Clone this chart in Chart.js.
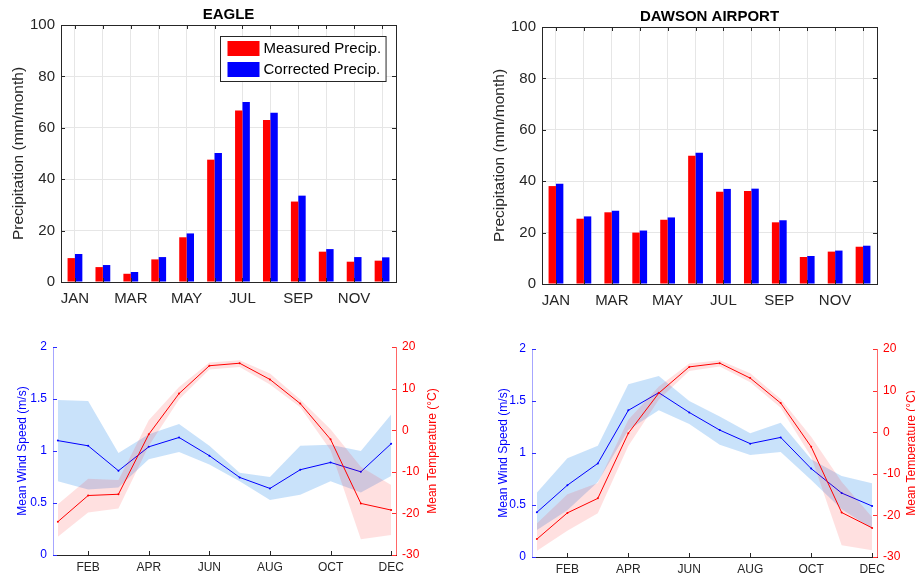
<!DOCTYPE html>
<html>
<head>
<meta charset="utf-8">
<title>Precipitación, viento y temperatura</title>
<script src="https://cdn.jsdelivr.net/npm/chart.js@4"></script>
<style>
    html, body { margin: 0; padding: 0; background: #fff; overflow: hidden; width: 915px; height: 575px; }
    canvas { position: absolute; }
</style>
</head>
<body>
<canvas id="graficaEagle" width="460" height="320" style="left:0;top:0"></canvas>
<canvas id="graficaDawson" width="455" height="320" style="left:460px;top:0"></canvas>
<canvas id="graficaClimaEagle" width="460" height="245" style="left:0;top:330px"></canvas>
<canvas id="graficaClimaDawson" width="470" height="245" style="left:460px;top:330px"></canvas>
<script>
//1. Datos
const meses = ["JAN", "FEB", "MAR", "APR", "MAY", "JUN", "JUL", "AUG", "SEP", "OCT", "NOV", "DEC"];

// Precipitación (mm/mes)
const eaglePrecMedida = [9.3, 5.8, 3.2, 8.8, 17.4, 47.6, 66.7, 63.0, 31.3, 11.8, 7.9, 8.3];
const eaglePrecCorregida = [10.9, 6.6, 3.9, 9.7, 18.9, 50.2, 70.0, 65.9, 33.6, 12.8, 9.7, 9.6];
const dawsonPrecMedida = [38.1, 25.4, 27.9, 20.0, 25.0, 49.9, 35.9, 36.2, 24.0, 10.5, 12.6, 14.5];
const dawsonPrecCorregida = [39.0, 26.3, 28.5, 20.8, 25.9, 51.1, 37.0, 37.1, 24.8, 10.9, 13.0, 14.9];

// Viento medio (m/s) con su banda
const eagleViento = [1.10, 1.05, 0.81, 1.04, 1.13, 0.955, 0.746, 0.64, 0.82, 0.89, 0.80, 1.07];
const eagleVientoMax = [1.49, 1.48, 0.98, 1.16, 1.26, 1.05, 0.79, 0.75, 1.05, 1.06, 1.00, 1.35];
const eagleVientoMin = [0.71, 0.63, 0.65, 0.92, 0.99, 0.87, 0.71, 0.53, 0.58, 0.71, 0.60, 0.76];
const dawsonViento = [0.43, 0.69, 0.90, 1.41, 1.58, 1.39, 1.22, 1.09, 1.15, 0.85, 0.615, 0.49];
const dawsonVientoMax = [0.62, 0.95, 1.07, 1.66, 1.74, 1.50, 1.35, 1.19, 1.29, 0.94, 0.78, 0.71];
const dawsonVientoMin = [0.26, 0.45, 0.72, 1.22, 1.41, 1.28, 1.08, 0.98, 1.01, 0.74, 0.46, 0.27];

// Temperatura media (°C) con su banda
const eagleTemp = [-22.0, -15.7, -15.4, -1.0, 8.8, 15.5, 16.1, 12.2, 6.4, -2.2, -17.6, -19.2];
const eagleTempMax = [-17.8, -11.7, -12.0, 2.4, 10.4, 16.3, 16.8, 13.6, 7.4, 0.2, -8.8, -13.2];
const eagleTempMin = [-25.6, -19.8, -18.8, -3.8, 7.4, 14.6, 15.2, 11.0, 5.5, -4.8, -26.2, -25.2];
const dawsonTemp = [-25.7, -19.4, -15.9, -0.25, 9.4, 15.7, 16.6, 13.0, 7.0, -3.5, -19.3, -23.0];
const dawsonTempMax = [-21.9, -14.9, -12.2, 3.0, 11.0, 16.5, 17.3, 14.2, 8.0, -1.1, -11.9, -20.4];
const dawsonTempMin = [-28.5, -23.7, -19.5, -3.3, 7.8, 14.7, 15.8, 12.0, 5.9, -5.9, -27.2, -28.4];

const FUENTE = "'Liberation Sans', Arial, sans-serif";
const GRIS = "#262626";

Chart.defaults.font.family = FUENTE;
Chart.defaults.color = GRIS;
Chart.defaults.animation = false;

//2. Plugins pequeños para imitar el estilo de MATLAB

// Caja alrededor del área de la gráfica
const cajaEjes = {
    id: "cajaEjes",
    afterDatasetsDraw(chart, args, opts) {
        if (!opts.mostrar) return;
        const { ctx, chartArea: a } = chart;
        ctx.save();
        ctx.strokeStyle = GRIS;
        ctx.lineWidth = 1;
        ctx.strokeRect(Math.round(a.left) + 0.5, Math.round(a.top) + 0.5,
            Math.round(a.right - a.left), Math.round(a.bottom - a.top));
        ctx.restore();
    }
};

// Marcas de los ejes hacia dentro
const marcasInternas = {
    id: "marcasInternas",
    afterDatasetsDraw(chart, args, opts) {
        const { ctx, chartArea: a } = chart;
        const largo = opts.largo || 4;
        ctx.save();
        ctx.lineWidth = 1;
        (opts.ejes || []).forEach((e) => {
            const escala = chart.scales[e.id];
            ctx.strokeStyle = e.color;
            escala.ticks.forEach((t, i) => {
                const p = Math.round(escala.getPixelForTick(i)) + 0.5;
                ctx.beginPath();
                if (escala.isHorizontal()) {
                    ctx.moveTo(p, a.bottom);
                    ctx.lineTo(p, a.bottom - largo);
                    if (e.ambos) {
                        ctx.moveTo(p, a.top);
                        ctx.lineTo(p, a.top + largo);
                    }
                } else if (escala.position === "left") {
                    ctx.moveTo(a.left, p);
                    ctx.lineTo(a.left + largo, p);
                    if (e.ambos) {
                        ctx.moveTo(a.right, p);
                        ctx.lineTo(a.right - largo, p);
                    }
                } else {
                    ctx.moveTo(a.right, p);
                    ctx.lineTo(a.right - largo, p);
                }
                ctx.stroke();
            });
        });
        ctx.restore();
    }
};

// Leyenda con recuadro dentro del área (arriba a la derecha)
const leyendaCaja = {
    id: "leyendaCaja",
    afterDraw(chart, args, opts) {
        if (!opts.mostrar) return;
        const { ctx, chartArea: a } = chart;
        const series = chart.data.datasets;
        ctx.save();
        ctx.font = "15px " + FUENTE;
        const anchoTexto = Math.max(...series.map((d) => ctx.measureText(d.label).width));
        const ancho = 7 + 32 + 4 + anchoTexto + 5;
        const alto = 9 + series.length * 21 - 6;
        const x = Math.round(a.right - 10 - ancho) + 0.5;
        const y = Math.round(a.top + 11) + 0.5;
        ctx.fillStyle = "#fff";
        ctx.fillRect(x, y, ancho, alto);
        ctx.strokeStyle = GRIS;
        ctx.lineWidth = 1;
        ctx.strokeRect(x, y, ancho, alto);
        series.forEach((d, i) => {
            const fila = y + 4.5 + i * 21;
            ctx.fillStyle = d.backgroundColor;
            ctx.fillRect(x + 7, fila, 32, 15);
            ctx.fillStyle = "#000";
            ctx.textBaseline = "middle";
            ctx.fillText(d.label, x + 7 + 32 + 4, fila + 8);
        });
        ctx.restore();
    }
};

// Título del eje derecho girado como en MATLAB (de abajo hacia arriba)
const tituloDerecho = {
    id: "tituloDerecho",
    afterDraw(chart, args, opts) {
        if (!opts.texto) return;
        const { ctx, chartArea: a } = chart;
        const escala = chart.scales.y1;
        ctx.save();
        ctx.translate(escala.left + opts.x, (a.top + a.bottom) / 2);
        ctx.rotate(-Math.PI / 2);
        ctx.font = opts.tamano + "px " + FUENTE;
        ctx.fillStyle = opts.color;
        ctx.textAlign = "center";
        ctx.textBaseline = "middle";
        ctx.fillText(opts.texto, 0, 0);
        ctx.restore();
    }
};

//3. Gráficas de barras de precipitación
function crearGraficaPrecipitacion(idCanvas, titulo, medida, corregida, medidas) {
    return new Chart(document.getElementById(idCanvas), {
        type: "bar",
        data: {
            labels: meses,
            datasets: [{
                label: "Measured Precip.",
                data: medida,
                backgroundColor: "#ff0000",
                categoryPercentage: 0.53,
                barPercentage: 1.0
            }, {
                label: "Corrected Precip.",
                data: corregida,
                backgroundColor: "#0000ff",
                categoryPercentage: 0.53,
                barPercentage: 1.0
            }]
        },
        options: {
            responsive: false,
            layout: { padding: { left: 0, right: medidas.derecha, top: 0, bottom: 0 } },
            plugins: {
                legend: { display: false },
                tooltip: { enabled: false },
                title: {
                    display: true,
                    text: titulo,
                    fullSize: false,
                    color: "#000",
                    font: { size: 15, weight: "bold" },
                    padding: { top: medidas.tituloArriba, bottom: 1 }
                },
                cajaEjes: { mostrar: true },
                marcasInternas: {
                    largo: 4,
                    ejes: [{ id: "x", color: GRIS, ambos: true }, { id: "y", color: GRIS, ambos: true }]
                },
                leyendaCaja: { mostrar: medidas.leyenda }
            },
            scales: {
                x: {
                    afterFit: (escala) => { escala.height = medidas.altoX; },
                    grid: { offset: false, color: "#e6e6e6", drawTicks: false },
                    border: { display: false },
                    ticks: {
                        autoSkip: false,
                        maxRotation: 0,
                        padding: 8,
                        font: { size: 15 },
                        callback: (valor, i) => (i % 2 === 0 ? meses[i] : "")
                    }
                },
                y: {
                    min: 0,
                    max: 100,
                    afterFit: (escala) => { escala.width = medidas.anchoY; },
                    grid: { color: "#e6e6e6", drawTicks: false },
                    border: { display: false },
                    ticks: { stepSize: 20, padding: 6, font: { size: 15 } },
                    title: {
                        display: true,
                        text: "Precipitation (mm/month)",
                        font: { size: 15.5 },
                        padding: { top: medidas.tituloY, bottom: 0 }
                    }
                }
            }
        },
        plugins: [cajaEjes, marcasInternas, leyendaCaja]
    });
}

crearGraficaPrecipitacion("graficaEagle", "EAGLE", eaglePrecMedida, eaglePrecCorregida,
    { derecha: 64, anchoY: 61, altoX: 38, tituloArriba: 6, tituloY: 9, leyenda: true });
crearGraficaPrecipitacion("graficaDawson", "DAWSON AIRPORT", dawsonPrecMedida, dawsonPrecCorregida,
    { derecha: 38, anchoY: 82, altoX: 36, tituloArriba: 8, tituloY: 30, leyenda: false });

//4. Gráficas de viento y temperatura (dos ejes)
function puntos(valores) {
    return valores.map((v, i) => ({ x: i + 1, y: v }));
}

function crearGraficaClima(idCanvas, viento, vientoMax, vientoMin, temp, tempMax, tempMin, medidas) {
    const banda = { borderColor: "transparent", borderWidth: 0, pointRadius: 0 };
    return new Chart(document.getElementById(idCanvas), {
        type: "line",
        data: {
            datasets: [
                { ...banda, label: "Viento máx", data: puntos(vientoMax), yAxisID: "y", fill: false, order: 4 },
                { ...banda, label: "Viento mín", data: puntos(vientoMin), yAxisID: "y", fill: "-1",
                    backgroundColor: "rgba(0,120,230,0.21)", order: 4 },
                {
                    label: "Mean Wind Speed", data: puntos(viento), yAxisID: "y", order: 3,
                    borderColor: "#0000ff", borderWidth: 1, pointRadius: 1,
                    pointBackgroundColor: "#0000ff", pointBorderWidth: 0, fill: false
                },
                { ...banda, label: "Temp máx", data: puntos(tempMax), yAxisID: "y1", fill: false, order: 2 },
                { ...banda, label: "Temp mín", data: puntos(tempMin), yAxisID: "y1", fill: "-1",
                    backgroundColor: "rgba(255,0,0,0.12)", order: 2 },
                {
                    label: "Mean Temperature", data: puntos(temp), yAxisID: "y1", order: 1,
                    borderColor: "#ff0000", borderWidth: 1, pointRadius: 1,
                    pointBackgroundColor: "#ff0000", pointBorderWidth: 0, fill: false
                }
            ]
        },
        options: {
            responsive: false,
            layout: { padding: { left: 0, right: 0, top: medidas.arriba, bottom: 0 } },
            plugins: {
                legend: { display: false },
                tooltip: { enabled: false },
                marcasInternas: {
                    largo: 4,
                    ejes: [{ id: "x", color: GRIS }, { id: "y", color: "#2b2bff" }, { id: "y1", color: "#ff3030" }]
                },
                tituloDerecho: { texto: "Mean Temperature (°C)", x: medidas.tituloDer, color: "#ff0000", tamano: 12 }
            },
            scales: {
                x: {
                    type: "linear",
                    min: 0.84,
                    max: 12.16,
                    afterFit: (escala) => { escala.height = medidas.altoX; },
                    afterBuildTicks: (escala) => {
                        escala.ticks = meses.map((m, i) => ({ value: i + 1 })).filter((t) => t.value % 2 === 0);
                    },
                    grid: { display: false, drawTicks: false },
                    border: { color: GRIS },
                    ticks: {
                        padding: 5,
                        font: { size: 12 },
                        color: GRIS,
                        callback: (valor) => meses[valor - 1]
                    }
                },
                y: {
                    position: "left",
                    min: 0,
                    max: 2,
                    afterFit: (escala) => { escala.width = medidas.anchoY; },
                    grid: { display: false, drawTicks: false },
                    border: { color: "rgba(0,0,255,0.35)" },
                    ticks: {
                        stepSize: 0.5, padding: 6, color: "#0000ff", font: { size: 12 },
                        callback: (valor) => String(valor)
                    },
                    title: {
                        display: true,
                        text: "Mean Wind Speed (m/s)",
                        color: "#0000ff",
                        font: { size: 12 },
                        padding: { top: medidas.tituloY, bottom: 0 }
                    }
                },
                y1: {
                    position: "right",
                    min: -30,
                    max: 20,
                    afterFit: (escala) => { escala.width = medidas.anchoY1; },
                    grid: { display: false, drawTicks: false },
                    border: { color: "rgba(255,0,0,0.6)" },
                    ticks: {
                        stepSize: 10, padding: 6, color: "#ff0000", font: { size: 12 },
                        callback: (valor) => String(valor)
                    }
                }
            }
        },
        plugins: [marcasInternas, tituloDerecho]
    });
}

crearGraficaClima("graficaClimaEagle", eagleViento, eagleVientoMax, eagleVientoMin,
    eagleTemp, eagleTempMax, eagleTempMin,
    { arriba: 17, altoX: 20, anchoY: 53, anchoY1: 64, tituloY: 15, tituloDer: 37 });
crearGraficaClima("graficaClimaDawson", dawsonViento, dawsonVientoMax, dawsonVientoMin,
    dawsonTemp, dawsonTempMax, dawsonTempMin,
    { arriba: 19, altoX: 18, anchoY: 72, anchoY1: 53, tituloY: 36, tituloDer: 35 });
</script>
</body>
</html>
